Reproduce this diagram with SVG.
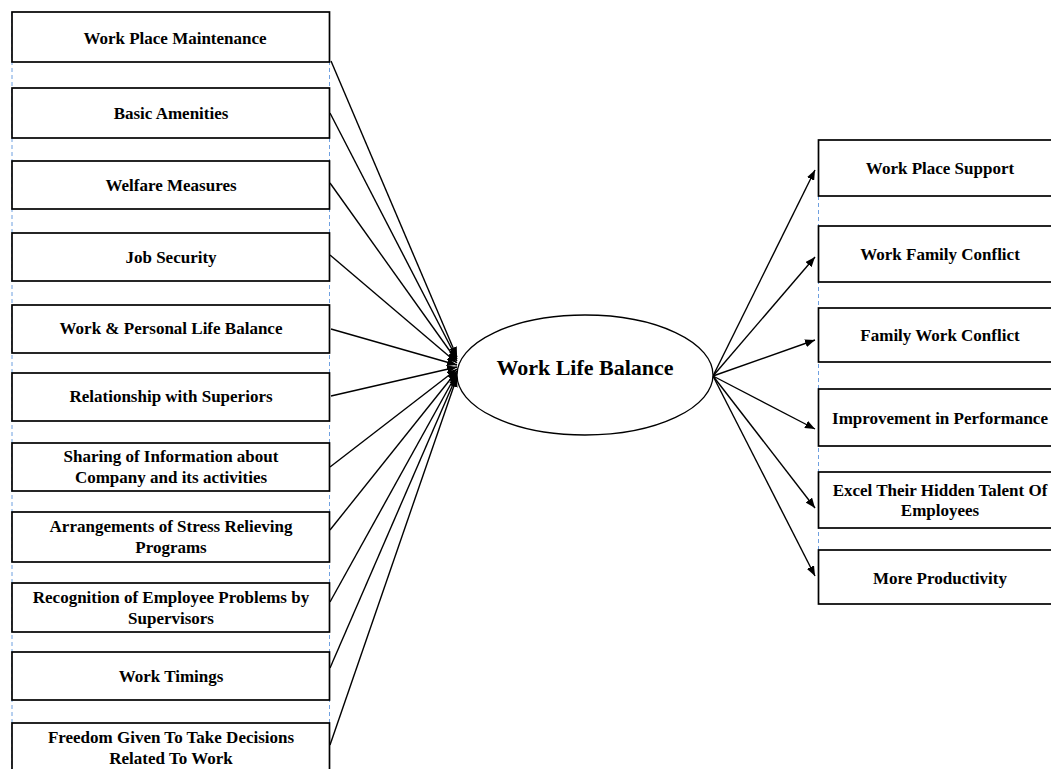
<svg xmlns="http://www.w3.org/2000/svg" width="1051" height="769" viewBox="0 0 1051 769">
<style>
.box{fill:#fff;stroke:#000;stroke-width:1.7}
.guide{stroke:#6fa0e0;stroke-width:1;stroke-dasharray:4 3;fill:none}
.t{font-family:"Liberation Serif","Times New Roman",serif;font-weight:bold;font-size:17px;fill:#000;text-anchor:middle}
.big{font-size:22px}
.c{stroke:#000;stroke-width:1.4;fill:none;marker-end:url(#ah)}
</style>
<defs>
<marker id="ah" viewBox="0 0 10 8" refX="10" refY="4" markerWidth="10" markerHeight="8" markerUnits="userSpaceOnUse" orient="auto">
<path d="M0,0 L10,4 L0,8 Z" fill="#000"/>
</marker>
</defs>
<rect width="1051" height="769" fill="#fff"/>
<g id="guides">
<line class="guide" x1="12" y1="12" x2="12" y2="769"/>
<line class="guide" x1="329.5" y1="12" x2="329.5" y2="769"/>
<line class="guide" x1="818.5" y1="140" x2="818.5" y2="604"/>
</g>
<g id="connectors">
<line class="c" x1="331" y1="61" x2="457" y2="357"/>
<line class="c" x1="330" y1="113" x2="457" y2="359"/>
<line class="c" x1="330" y1="183" x2="457" y2="361"/>
<line class="c" x1="330" y1="255" x2="457" y2="363"/>
<line class="c" x1="331" y1="329" x2="457" y2="365"/>
<line class="c" x1="331" y1="396" x2="457" y2="367"/>
<line class="c" x1="330" y1="467" x2="457" y2="369"/>
<line class="c" x1="330" y1="530" x2="457" y2="371"/>
<line class="c" x1="330" y1="602" x2="457" y2="373"/>
<line class="c" x1="330" y1="668" x2="457" y2="375"/>
<line class="c" x1="330" y1="745" x2="457" y2="377"/>
<line class="c" x1="713" y1="376" x2="815" y2="170"/>
<line class="c" x1="713" y1="376" x2="815" y2="257"/>
<line class="c" x1="713" y1="376" x2="815" y2="340"/>
<line class="c" x1="713" y1="376" x2="815" y2="429"/>
<line class="c" x1="713" y1="376" x2="815" y2="508"/>
<line class="c" x1="713" y1="376" x2="815" y2="576"/>
</g>
<g id="n-wpm"><rect class="box" x="12" y="12" width="317.5" height="50"/><text class="t" x="175" y="44">Work Place Maintenance</text></g>
<g id="n-basic"><rect class="box" x="12" y="88" width="317.5" height="50"/><text class="t" x="171" y="119">Basic Amenities</text></g>
<g id="n-welfare"><rect class="box" x="12" y="161" width="317.5" height="48"/><text class="t" x="171" y="191">Welfare Measures</text></g>
<g id="n-job"><rect class="box" x="12" y="233" width="317.5" height="48"/><text class="t" x="171" y="263">Job Security</text></g>
<g id="n-wpl"><rect class="box" x="12" y="305" width="317.5" height="48"/><text class="t" x="171" y="334">Work &amp; Personal Life Balance</text></g>
<g id="n-rel"><rect class="box" x="12" y="373" width="317.5" height="48"/><text class="t" x="171" y="402">Relationship with Superiors</text></g>
<g id="n-share"><rect class="box" x="12" y="443" width="317.5" height="48"/><text class="t" x="171" y="462">Sharing of Information about</text><text class="t" x="171" y="483">Company and its activities</text></g>
<g id="n-stress"><rect class="box" x="12" y="512" width="317.5" height="50"/><text class="t" x="171" y="532">Arrangements of Stress Relieving</text><text class="t" x="171" y="553">Programs</text></g>
<g id="n-recog"><rect class="box" x="12" y="583" width="317.5" height="49"/><text class="t" x="171" y="603">Recognition of Employee Problems by</text><text class="t" x="171" y="624">Supervisors</text></g>
<g id="n-timing"><rect class="box" x="12" y="652" width="317.5" height="48"/><text class="t" x="171" y="682">Work Timings</text></g>
<g id="n-freedom"><rect class="box" x="12" y="723" width="317.5" height="60"/><text class="t" x="171" y="743">Freedom Given To Take Decisions</text><text class="t" x="171" y="764">Related To Work</text></g>
<g id="n-wlb"><ellipse cx="585" cy="375" rx="128" ry="60" fill="#fff" stroke="#000" stroke-width="1.3"/><text class="t big" x="585" y="375">Work Life Balance</text></g>
<g id="n-wps"><rect class="box" x="818.5" y="140" width="245" height="56"/><text class="t" x="940" y="174">Work Place Support</text></g>
<g id="n-wfc"><rect class="box" x="818.5" y="226" width="245" height="56"/><text class="t" x="940" y="260">Work Family Conflict</text></g>
<g id="n-fwc"><rect class="box" x="818.5" y="308" width="245" height="54"/><text class="t" x="940" y="341">Family Work Conflict</text></g>
<g id="n-imp"><rect class="box" x="818.5" y="389" width="245" height="57"/><text class="t" x="940" y="424">Improvement in Performance</text></g>
<g id="n-excel"><rect class="box" x="818.5" y="472" width="245" height="56"/><text class="t" x="940" y="496">Excel Their Hidden Talent Of</text><text class="t" x="940" y="516">Employees</text></g>
<g id="n-prod"><rect class="box" x="818.5" y="550" width="245" height="54"/><text class="t" x="940" y="584">More Productivity</text></g>
</svg>
